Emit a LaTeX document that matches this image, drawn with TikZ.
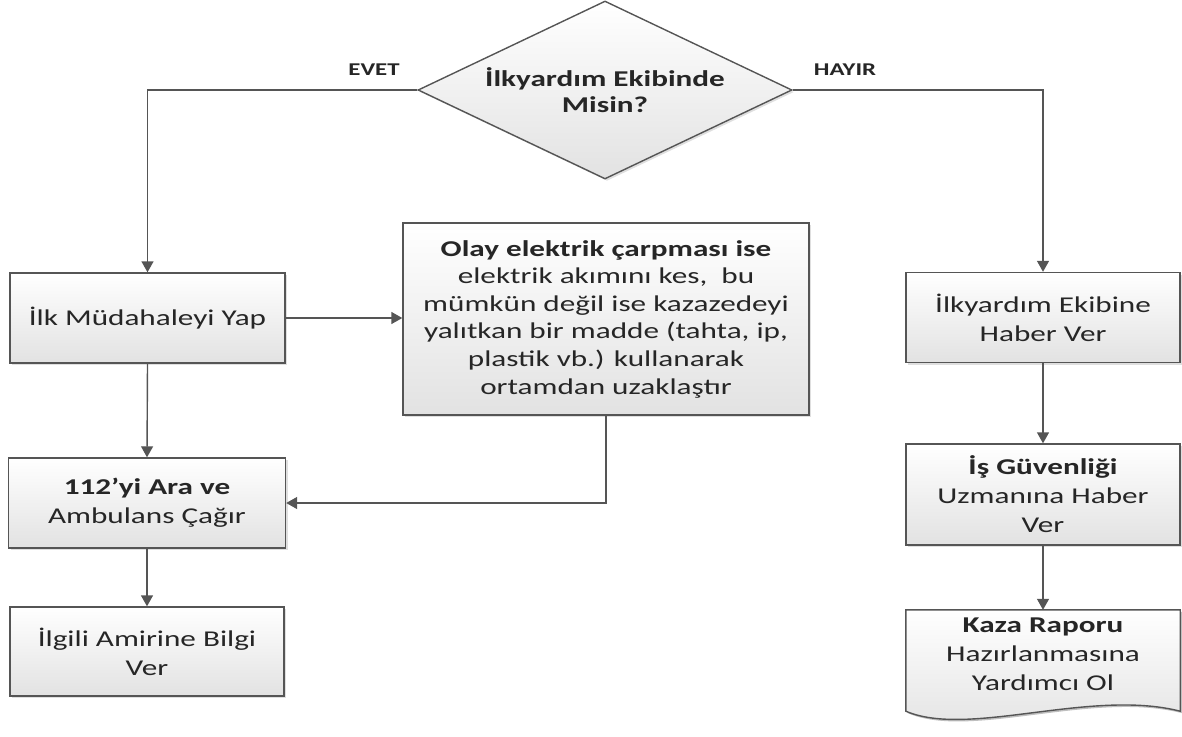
\documentclass[tikz,border=0pt]{standalone}
\usepackage{fontspec}
\setmainfont[FakeStretch=1.38]{Carlito}
\usepackage{tikz}
\usetikzlibrary{shapes,shapes.geometric,shadows,arrows.meta,calc,positioning}

\definecolor{linegray}{HTML}{555555}
\definecolor{boxgray}{HTML}{E2E2E2}

\tikzset{
  flowbox/.style={rectangle, draw=linegray, line width=1.4pt,
    top color=white, bottom color=boxgray, align=center, inner sep=2pt,
    drop shadow={opacity=0.25, shadow xshift=2pt, shadow yshift=-2pt},
    text=black!85, font=\fontsize{22.6}{29}\selectfont},
  decision/.style={diamond, draw=linegray, line width=1.4pt,
    top color=white, bottom color=boxgray, align=center, inner sep=0pt,
    drop shadow={opacity=0.25, shadow xshift=2pt, shadow yshift=-2pt},
    text=black!85, font=\fontsize{22.6}{26}\selectfont\bfseries},
  conn/.style={draw=linegray, line width=1.4pt, -{Triangle[length=11pt,width=12pt]}},
  answer/.style={font=\fontsize{18}{20}\selectfont\bfseries, text=black!85}
}

\begin{document}
\begin{tikzpicture}[x=1pt, y=-1pt]

        \useasboundingbox (0,0) rectangle (1182,736);

         % Question
         \node[decision, minimum width=374pt, minimum height=178pt] (q) at (605,90)
              {\makebox[0pt]{İlkyardım Ekibinde}\\\makebox[0pt]{Misin?}};
         \node[answer] (evet) at (374,70) {EVET};
         \node[answer] (hayir) at (845,70) {HAYIR};

         % Left branch
         \node[flowbox, minimum width=275pt, minimum height=90pt] (ilk) at (147.5,318)
              {İlk Müdahaleyi Yap};
         \node[flowbox, minimum width=406pt, minimum height=192pt,
               font=\fontsize{22.6}{27.6}\selectfont] (olay) at (606,319)
              {\textbf{Olay elektrik çarpması ise}\\elektrik akımını kes,~ bu\\mümkün değil ise kazazedeyi\\yalıtkan bir madde (tahta, ip,\\plastik vb.) kullanarak\\ortamdan uzaklaştır};
         \node[flowbox, minimum width=277pt, minimum height=90pt] (ara) at (147,503)
              {\textbf{112'yi Ara ve}\\Ambulans Çağır};
         \node[flowbox, minimum width=274pt, minimum height=89pt] (amir) at (147,651.5)
              {İlgili Amirine Bilgi\\Ver};

         % Right branch
         \node[flowbox, minimum width=274pt, minimum height=90pt] (haber) at (1043,317.5)
              {İlkyardım Ekibine\\Haber Ver};
         \node[flowbox, minimum width=274pt, minimum height=101pt] (isg) at (1043,494.5)
              {\textbf{İş Güvenliği}\\Uzmanına Haber\\Ver};

         % Report (document shape)
         \node[rectangle, minimum width=274pt, minimum height=108pt] (kaza) at (1043,664) {};
         \fill[black, opacity=0.25] ($(kaza.north west)+(2,2)$) -- ($(kaza.north east)+(2,2)$)
              -- ($(kaza.south east)+(2,-5)$)
              .. controls ($(kaza.south east)+(-88,-28)$) and ($(kaza.south west)+(65,22)$) ..
              ($(kaza.south west)+(2,-5)$) -- cycle;
         \draw[draw=linegray, line width=1.4pt, top color=white, bottom color=boxgray]
              (kaza.north west) -- (kaza.north east) -- ($(kaza.south east)+(0,-7)$)
              .. controls ($(kaza.south east)+(-90,-30)$) and ($(kaza.south west)+(63,20)$) ..
              ($(kaza.south west)+(0,-7)$) -- cycle;
         \node[align=center, text=black!85, font=\fontsize{22.6}{29}\selectfont] (kazatext) at (1043,654)
              {\textbf{Kaza Raporu}\\Hazırlanmasına\\Yardımcı Ol};

         % Connectors
         \draw[conn] (q.west) -| (ilk.north);
         \draw[conn] (q.east) -| (haber.north);
         \draw[conn] (ilk.east) -- (olay.west |- ilk.east);
         \draw[conn] (ilk.south) -- (ara.north);
         \draw[conn] (olay.south) |- (ara.east);
         \draw[conn] (ara.south) -- (amir.north);
         \draw[conn] (haber.south) -- (isg.north);
         \draw[conn] (isg.south) -- (kaza.north);

\end{tikzpicture}
\end{document}
